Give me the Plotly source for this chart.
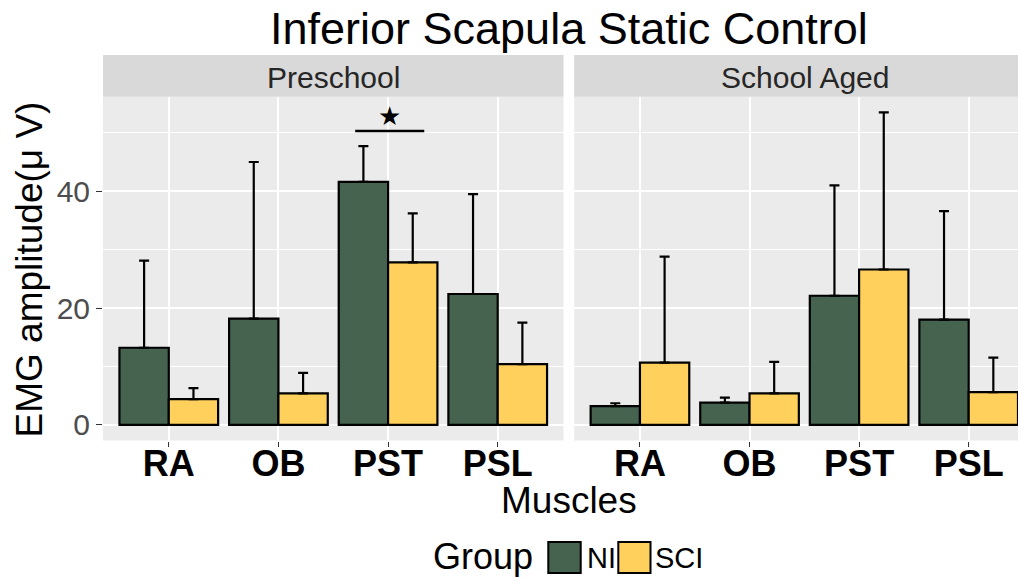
import plotly.graph_objects as go

# ---------------- data ----------------
muscles = ["RA", "OB", "PST", "PSL"]
groups = ["NI", "SCI"]
panels = ["Preschool", "School Aged"]

pre_ni_mean = [13.2, 18.2, 41.6, 22.4]
pre_ni_sd = [14.9, 26.8, 6.1, 17.1]
pre_sci_mean = [4.4, 5.4, 27.8, 10.4]
pre_sci_sd = [1.9, 3.5, 8.4, 7.1]

sch_ni_mean = [3.2, 3.8, 22.1, 18.0]
sch_ni_sd = [0.5, 0.85, 18.9, 18.6]
sch_sci_mean = [10.65, 5.4, 26.6, 5.6]
sch_sci_sd = [18.15, 5.4, 26.9, 5.9]

y_ticks = [0, 20, 40]
sig_y = 50.3
star_y = 52.9

# ---------------- style ----------------
W, H = 1018, 578
FONT = "Liberation Sans, Arial, sans-serif"
C_NI = "#45634F"
C_SCI = "#FFD15C"
PANEL_BG = "#EBEBEB"
STRIP_BG = "#D9D9D9"


def px(x):
    return x / W


def py(y):
    return (H - y) / H


y_bottom, y_top = 440.5, 96.7
x1_dom = [px(103), px(563.5)]
x2_dom = [px(574.2), 1.0]
y_dom = [py(y_bottom), py(y_top)]
y_range = [-2.675, 56.175]

fig = go.Figure()

sets = [
    ("x", "y", pre_ni_mean, pre_ni_sd, pre_sci_mean, pre_sci_sd),
    ("x2", "y2", sch_ni_mean, sch_ni_sd, sch_sci_mean, sch_sci_sd),
]
for xa, ya, nim, nisd, scim, scisd in sets:
    for g, m, sd, col in [("NI", nim, nisd, C_NI), ("SCI", scim, scisd, C_SCI)]:
        fig.add_trace(go.Bar(
            x=[1, 2, 3, 4], y=m, name=g, legendgroup=g, showlegend=False,
            offsetgroup=g, xaxis=xa, yaxis=ya,
            marker=dict(color=col, line=dict(color="black", width=2.2)),
            error_y=dict(type="data", array=sd, arrayminus=[0] * len(sd),
                         symmetric=False, color="black", thickness=2.2, width=5),
        ))

axis_common = dict(
    showline=False, zeroline=False, showgrid=True, gridcolor="white", gridwidth=1.6,
)
xtick_common = dict(
    tickmode="array", tickvals=[1, 2, 3, 4], ticktext=muscles,
    ticks="outside", ticklen=5, tickcolor="#333333", tickwidth=1,
    ticklabelstandoff=-14,
    tickfont=dict(family=FONT, size=36, color="black", weight="bold"),
)
fig.update_layout(
    width=W, height=H, margin=dict(l=0, r=0, t=0, b=0),
    paper_bgcolor="white", plot_bgcolor=PANEL_BG,
    barmode="group", bargap=0.1, bargroupgap=0,
    font=dict(family=FONT),
    showlegend=False,
    xaxis=dict(domain=x1_dom, range=[0.4, 4.6], anchor="y", **xtick_common, **axis_common),
    xaxis2=dict(domain=x2_dom, range=[0.4, 4.45], anchor="y2", **xtick_common, **axis_common),
    yaxis=dict(domain=y_dom, range=y_range, anchor="x",
               tickmode="array", tickvals=y_ticks,
               ticks="outside", ticklen=6, tickcolor="#333333", tickwidth=1,
               tickfont=dict(family=FONT, size=30, color="#4D4D4D"),
               minor=dict(tickmode="array", tickvals=[10, 30, 50], showgrid=True,
                          gridcolor="white", gridwidth=0.8),
               **axis_common),
    yaxis2=dict(domain=y_dom, range=y_range, anchor="x2",
                tickmode="array", tickvals=y_ticks, showticklabels=False,
                minor=dict(tickmode="array", tickvals=[10, 30, 50], showgrid=True,
                           gridcolor="white", gridwidth=0.8),
                **axis_common),
)

shapes = []
annotations = []

# strips
for dom in (x1_dom, x2_dom):
    shapes.append(dict(type="rect", xref="paper", yref="paper",
                       x0=dom[0], x1=dom[1], y0=py(96.7), y1=py(55),
                       fillcolor=STRIP_BG, line=dict(width=0), layer="below"))
annotations.append(dict(text=panels[0], x=px(333.2), y=py(77), xref="paper", yref="paper",
                        showarrow=False, xanchor="center", yanchor="middle",
                        font=dict(family=FONT, size=30, color="#262626")))
annotations.append(dict(text=panels[1], x=px(804.5), y=py(77), xref="paper", yref="paper",
                        showarrow=False, xanchor="center", yanchor="middle",
                        font=dict(family=FONT, size=30, color="#262626")))

# significance marker
shapes.append(dict(type="line", xref="x", yref="y", x0=2.7, x1=3.33, y0=sig_y, y1=sig_y,
                   line=dict(color="black", width=2.5)))
annotations.append(dict(text="★", x=3.01, y=star_y, xref="x", yref="y", showarrow=False,
                        xanchor="center", yanchor="middle",
                        font=dict(family="DejaVu Sans", size=26, color="black")))

# titles
annotations.append(dict(text="Inferior Scapula Static Control", x=px(568.5), y=py(28.5),
                        xref="paper", yref="paper", showarrow=False,
                        xanchor="center", yanchor="middle",
                        font=dict(family=FONT, size=45, color="black")))
annotations.append(dict(text="Muscles", x=px(568.5), y=py(500.5),
                        xref="paper", yref="paper", showarrow=False,
                        xanchor="center", yanchor="middle",
                        font=dict(family=FONT, size=37, color="black")))
annotations.append(dict(text="EMG amplitude(μ V)", x=px(29), y=py(269.5),
                        xref="paper", yref="paper", showarrow=False, textangle=-90,
                        xanchor="center", yanchor="middle",
                        font=dict(family=FONT, size=37, color="black")))

# legend
annotations.append(dict(text="Group", x=px(535), y=py(556), xref="paper", yref="paper",
                        showarrow=False, xanchor="right", yanchor="middle",
                        font=dict(family=FONT, size=36, color="black")))
legend_items = [(groups[0], C_NI, 548.3, 580.7, 585.0), (groups[1], C_SCI, 618.3, 650.5, 653.0)]
for lab, col, k0, k1, tx in legend_items:
    shapes.append(dict(type="rect", xref="paper", yref="paper",
                       x0=px(k0), x1=px(k1), y0=py(573), y1=py(542),
                       fillcolor=col, line=dict(color="black", width=2)))
    annotations.append(dict(text=lab, x=px(tx), y=py(557.5), xref="paper", yref="paper",
                            showarrow=False, xanchor="left", yanchor="middle",
                            font=dict(family=FONT, size=29, color="black")))

fig.update_layout(shapes=shapes, annotations=annotations)
fig.write_html(
    "out.html",
    config={"displayModeBar": False},
    post_script="document.body.style.margin='0';document.body.style.padding='0';"
                "document.documentElement.style.overflow='hidden';",
)
